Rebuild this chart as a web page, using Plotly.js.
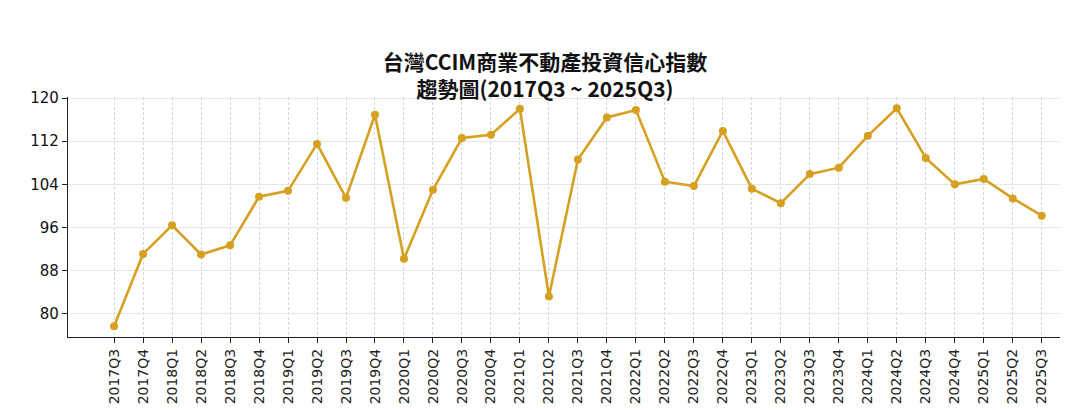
<!DOCTYPE html>
<html>
<head>
<meta charset="utf-8">
<script src="https://cdn.plot.ly/plotly-3.0.1.min.js"></script>
<style>html,body{margin:0;padding:0;background:#fff;}#chart{width:1067px;height:410px;}</style>
</head>
<body>
<div id="chart"></div>
<script>
const quarters = ["2017Q3","2017Q4","2018Q1","2018Q2","2018Q3","2018Q4","2019Q1","2019Q2","2019Q3","2019Q4",
  "2020Q1","2020Q2","2020Q3","2020Q4","2021Q1","2021Q2","2021Q3","2021Q4","2022Q1","2022Q2","2022Q3","2022Q4",
  "2023Q1","2023Q2","2023Q3","2023Q4","2024Q1","2024Q2","2024Q3","2024Q4","2025Q1","2025Q2","2025Q3"];
const indexValues = [77.7,91.1,96.4,91.0,92.7,101.7,102.8,111.5,101.5,116.9,
  90.2,103.0,112.6,113.2,118.0,83.2,108.6,116.4,117.8,104.5,103.7,113.9,
  103.2,100.5,105.9,107.1,113.0,118.1,108.9,104.0,105.0,101.4,98.2];
const yTicks = [80,88,96,104,112,120];
const titleText = "台灣CCIM商業不動產投資信心指數<br>趨勢圖(2017Q3 ~ 2025Q3)";

const trace = {
  x: quarters, y: indexValues, type: "scatter", mode: "lines+markers",
  line: {color: "#D6A021", width: 2.6},
  marker: {color: "#D6A021", size: 8},
  hoverinfo: "x+y"
};
const layout = {
  width: 1067, height: 410,
  margin: {l: 68, r: 7, t: 97, b: 73},
  paper_bgcolor: "#fff", plot_bgcolor: "#fff",
  showlegend: false,
  title: {
    text: titleText,
    font: {family: "Noto Sans CJK TC, Noto Sans CJK SC, sans-serif", size: 21, color: "#111", weight: "bold"},
    x: 545/1067, xanchor: "center", xref: "container",
    y: 1 - 70/410, yanchor: "middle", yref: "container"
  },
  xaxis: {
    type: "category",
    range: [-1.59, 32.63],
    tickangle: -90,
    tickfont: {family: "DejaVu Sans, sans-serif", size: 14, color: "#222"},
    ticks: "outside", ticklen: 5, tickcolor: "#222", tickwidth: 1,
    showline: true, linecolor: "#222", linewidth: 1.2,
    showgrid: true, gridcolor: "#cccccc", gridwidth: 0.8, griddash: "3px,2px",
    zeroline: false, fixedrange: true
  },
  yaxis: {
    range: [75.7, 120.2],
    tickvals: yTicks,
    tickfont: {family: "DejaVu Sans, sans-serif", size: 15, color: "#111"},
    ticks: "outside", ticklen: 5, tickcolor: "#222", tickwidth: 1,
    showline: true, linecolor: "#222", linewidth: 1.2,
    showgrid: true, gridcolor: "#e6e6e6", gridwidth: 1,
    zeroline: false, fixedrange: true
  },
  shapes: [{
    type: "rect", layer: "between",
    xref: "paper", yref: "paper",
    x0: (290-68)/(1067-75), x1: (793-68)/(1067-75),
    y0: 1 - (105-97)/(410-170), y1: 1.02,
    fillcolor: "#ffffff", line: {width: 0}
  }]
};
Plotly.newPlot("chart", [trace], layout, {displayModeBar: false, staticPlot: true});
</script>
</body>
</html>
